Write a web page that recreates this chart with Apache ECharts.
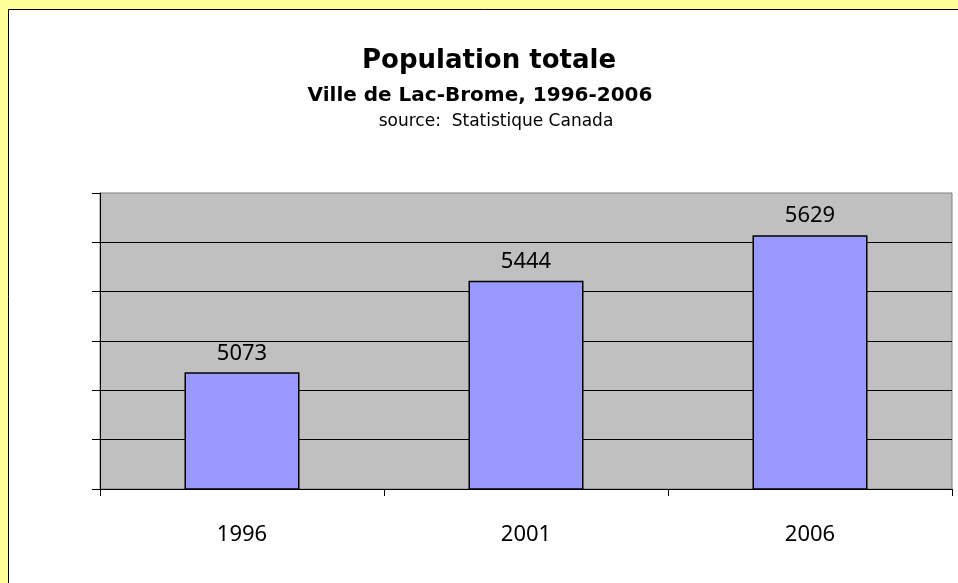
<!DOCTYPE html>
<html>
<head>
<meta charset="utf-8">
<script src="https://cdn.jsdelivr.net/npm/echarts@6/dist/echarts.min.js"></script>
<style>
  html, body { margin: 0; padding: 0; background: #FFFF99; }
  #chart { width: 958px; height: 583px; }
</style>
</head>
<body>
<div id="chart"></div>
<script>
const years = ['1996', '2001', '2006']
const population = [5073, 5444, 5629]
const titleLines = ['Population totale', 'Ville de Lac-Brome, 1996-2006', 'source:  Statistique Canada']

const font = 'Noto Sans'
const titleFont = '"DejaVu Sans"'
const chart = echarts.init(document.getElementById('chart'))

chart.setOption({
  backgroundColor: '#FFFF99',
  animation: false,
  graphic: [
    {
      type: 'rect',
      z: -10,
      shape: { x: 8.5, y: 9.5, width: 960, height: 600 },
      style: { fill: '#ffffff', stroke: '#000000', lineWidth: 1 }
    },
    {
      type: 'text', x: 489, y: 61,
      style: { text: titleLines[0], font: 'bold 26px ' + titleFont, fill: '#000', textAlign: 'center', textVerticalAlign: 'middle' }
    },
    {
      type: 'text', x: 480, y: 96,
      style: { text: titleLines[1], font: 'bold 20px ' + titleFont, fill: '#000', textAlign: 'center', textVerticalAlign: 'middle' }
    },
    {
      type: 'text', x: 496, y: 122,
      style: { text: titleLines[2], font: '17px ' + titleFont, fill: '#000', textAlign: 'center', textVerticalAlign: 'middle' }
    }
  ],
  grid: {
    left: 100,
    top: 193,
    right: 6,
    bottom: 94,
    show: true,
    backgroundColor: '#C0C0C0',
    borderColor: '#808080',
    borderWidth: 1
  },
  xAxis: {
    type: 'category',
    data: years,
    axisLine: { lineStyle: { color: '#000', width: 1 } },
    axisTick: { show: true, length: 7, lineStyle: { color: '#000' } },
    axisLabel: { color: '#000', fontSize: 22, fontFamily: font, margin: 35 }
  },
  yAxis: {
    type: 'value',
    min: 4600,
    max: 5800,
    interval: 200,
    axisLine: { show: true, lineStyle: { color: '#000', width: 1 } },
    axisTick: { show: true, length: 8, lineStyle: { color: '#000' } },
    axisLabel: { show: false },
    splitLine: { showMaxLine: false, lineStyle: { color: '#000', width: 1 } }
  },
  series: [{
    type: 'bar',
    data: population,
    barWidth: '40.5%',
    itemStyle: { color: '#9999FF', borderColor: '#000', borderWidth: 1.5 },
    label: {
      show: true,
      position: 'top',
      distance: 8,
      color: '#000',
      fontSize: 22,
      fontFamily: font
    }
  }]
})
</script>
</body>
</html>
